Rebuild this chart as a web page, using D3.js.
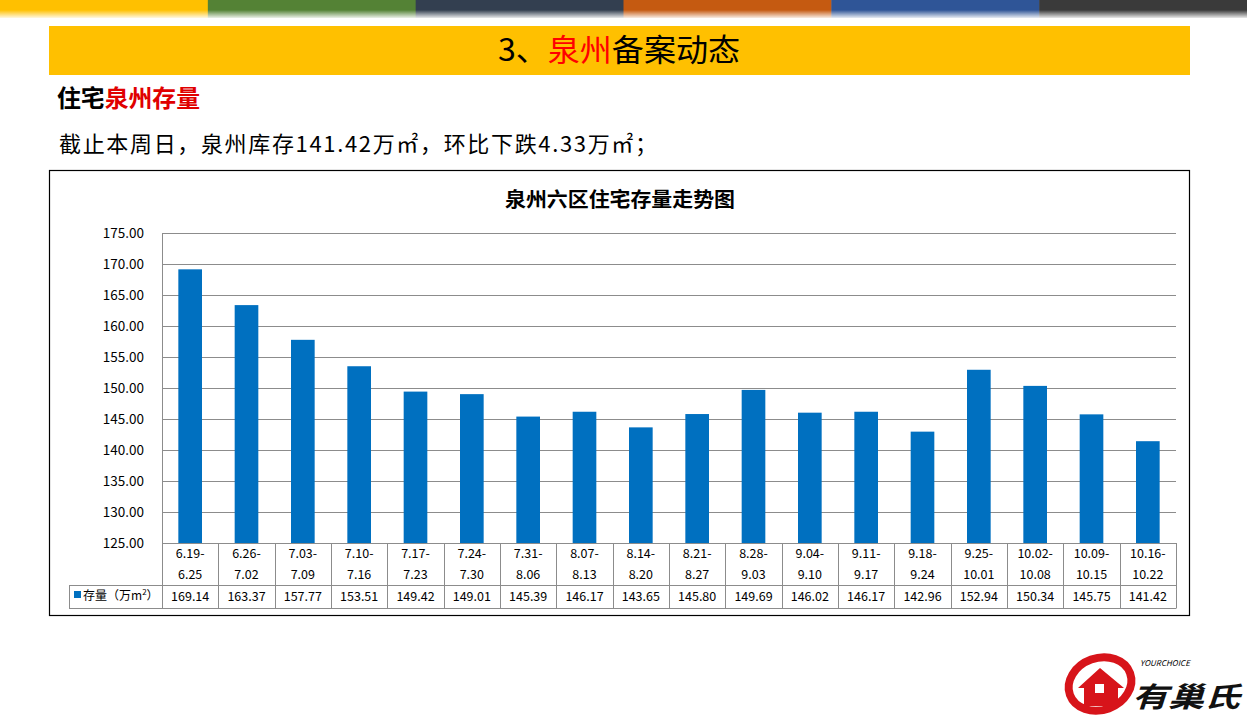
<!DOCTYPE html>
<html><head><meta charset="utf-8">
<script src="https://cdn.jsdelivr.net/npm/d3@7"></script>
<style>body{margin:0;background:#fff;}svg{display:block;font-family:"Noto Sans CJK SC","Noto Sans",sans-serif;}</style>
</head><body><svg id="c" width="1247" height="718"></svg>
<script>
const categoriesTop = ["6.19-","6.26-","7.03-","7.10-","7.17-","7.24-","7.31-","8.07-","8.14-","8.21-","8.28-","9.04-","9.11-","9.18-","9.25-","10.02-","10.09-","10.16-"];
const categoriesBottom = ["6.25","7.02","7.09","7.16","7.23","7.30","8.06","8.13","8.20","8.27","9.03","9.10","9.17","9.24","10.01","10.08","10.15","10.22"];
const stockValues = [169.14,163.37,157.77,153.51,149.42,149.01,145.39,146.17,143.65,145.80,149.69,146.02,146.17,142.96,152.94,150.34,145.75,141.42];
const yTicks = [125,130,135,140,145,150,155,160,165,170,175];
const stripColors = ["#FFC000","#548235","#333F50","#C55A11","#2F5597","#3A3A3A"];

const svg = d3.select("#c");
const categories = categoriesTop.map((d,i)=>d+"|"+categoriesBottom[i]);

// top strip
const defs = svg.append("defs");
const g = defs.append("linearGradient").attr("id","fade").attr("x1",0).attr("x2",0).attr("y1",0).attr("y2",1);
g.append("stop").attr("offset",0).attr("stop-color","#fff").attr("stop-opacity",0);
g.append("stop").attr("offset",1).attr("stop-color","#fff").attr("stop-opacity",1);
const sx = d3.scaleBand().domain(d3.range(stripColors.length)).range([0,1247]);
svg.selectAll(".strip").data(stripColors).join("rect").attr("x",(d,i)=>sx(i)).attr("y",0).attr("width",sx.bandwidth()+0.5).attr("height",18).attr("fill",d=>d);
svg.append("rect").attr("x",0).attr("y",10).attr("width",1247).attr("height",9).attr("fill","url(#fade)");

// banner
svg.append("rect").attr("x",49).attr("y",26).attr("width",1141).attr("height",49).attr("fill","#FFC000");
const bt = svg.append("text").attr("x",619).attr("y",61).attr("text-anchor","middle").attr("font-size",31).attr("fill","#000")
  .attr("textLength",242).attr("lengthAdjust","spacingAndGlyphs");
bt.append("tspan").text("3、");
bt.append("tspan").attr("fill","#FF0000").text("泉州");
bt.append("tspan").text("备案动态");

const st = svg.append("text").attr("x",57).attr("y",107).attr("font-size",24).attr("font-weight","bold")
  .attr("textLength",143).attr("lengthAdjust","spacingAndGlyphs");
st.append("tspan").text("住宅");
st.append("tspan").attr("fill","#E00000").text("泉州存量");
svg.append("text").attr("x",59).attr("y",152).attr("font-size",22).attr("fill","#000")
  .attr("textLength",598).attr("lengthAdjust","spacing")
  .text("截止本周日，泉州库存141.42万㎡，环比下跌4.33万㎡；");

// chart frame
svg.append("rect").attr("x",49.5).attr("y",170.5).attr("width",1140).attr("height",445).attr("fill","#fff").attr("stroke","#000").attr("stroke-width",1.2);
svg.append("text").attr("x",620).attr("y",207).attr("text-anchor","middle").attr("font-size",20).attr("font-weight","bold")
  .attr("textLength",230).attr("lengthAdjust","spacingAndGlyphs").text("泉州六区住宅存量走势图");

const L=162, R=1176, T=233, B=543;
const x = d3.scaleBand().domain(categories).range([L,R]).paddingInner(0.58).paddingOuter(0.29);
const xc = d3.scaleBand().domain(categories).range([L,R]);
const y = d3.scaleLinear().domain([125,175]).range([B,T]);

svg.append("g").selectAll("line").data(yTicks).join("line")
  .attr("x1",L).attr("x2",R).attr("y1",d=>Math.round(y(d))+0.5).attr("y2",d=>Math.round(y(d))+0.5)
  .attr("stroke","#8c8c8c").attr("stroke-width",1);
svg.append("line").attr("x1",L+0.5).attr("x2",L+0.5).attr("y1",T).attr("y2",B).attr("stroke","#8c8c8c");

const yAxis = svg.append("g").attr("transform",`translate(${L},0)`).call(d3.axisLeft(y).tickValues(yTicks).tickFormat(d3.format(".2f")).tickSize(0).tickPadding(18));
yAxis.select(".domain").remove();
yAxis.selectAll("text").attr("font-size",13.5).attr("fill","#000").attr("font-family","'Noto Sans CJK SC',sans-serif");

svg.append("g").selectAll("rect").data(stockValues).join("rect")
  .attr("x",(d,i)=>x(categories[i])).attr("width",x.bandwidth())
  .attr("y",d=>y(d)).attr("height",d=>y(125)-y(d)).attr("fill","#0070C0");

// data table
const tY1=B, tY2=585, tY3=608, legL=69;
const tbl = svg.append("g").attr("stroke","#8c8c8c").attr("stroke-width",1).attr("fill","none");
tbl.selectAll(".v").data(d3.range(categories.length+1)).join("line")
  .attr("x1",i=>i<categories.length?Math.round(xc(categories[i]))+0.5:R+0.5)
  .attr("x2",i=>i<categories.length?Math.round(xc(categories[i]))+0.5:R+0.5)
  .attr("y1",tY1).attr("y2",tY3);
tbl.append("line").attr("x1",legL+0.5).attr("x2",legL+0.5).attr("y1",tY2).attr("y2",tY3);
tbl.append("line").attr("x1",legL).attr("x2",R+0.5).attr("y1",tY2+0.5).attr("y2",tY2+0.5);
tbl.append("line").attr("x1",legL).attr("x2",R+0.5).attr("y1",tY3+0.5).attr("y2",tY3+0.5);

const tt = svg.append("g").attr("font-size",12.5).attr("text-anchor","middle").attr("fill","#000");
tt.selectAll(".a").data(categoriesTop).join("text").attr("x",(d,i)=>xc(categories[i])+xc.bandwidth()/2).attr("y",558).text(d=>d);
tt.selectAll(".b").data(categoriesBottom).join("text").attr("x",(d,i)=>xc(categories[i])+xc.bandwidth()/2).attr("y",579).text(d=>d);
tt.selectAll(".c").data(stockValues).join("text").attr("x",(d,i)=>xc(categories[i])+xc.bandwidth()/2).attr("y",601).text(d=>d.toFixed(2));
svg.append("rect").attr("x",74).attr("y",591).attr("width",7).attr("height",7).attr("fill","#0070C0");
const lg = svg.append("text").attr("x",83).attr("y",600).attr("font-size",12).attr("fill","#000");
lg.append("tspan").text("存量（万m");
lg.append("tspan").attr("font-size",8).attr("dy",-5).text("2");
lg.append("tspan").attr("dy",5).text("）");

// logo
const lgG = svg.append("g");
lgG.append("ellipse").attr("cx",1100).attr("cy",684).attr("rx",32).attr("ry",26).attr("fill","none").attr("stroke","#D7141A").attr("stroke-width",8).attr("transform","rotate(-20,1100,684)");
lgG.append("path").attr("d","M1078,688 L1100,668 L1124,688 L1118,688 L1118,706 L1084,706 L1084,688 Z").attr("fill","#D7141A");
lgG.append("rect").attr("x",1095).attr("y",684).attr("width",9).attr("height",9).attr("fill","#fff");
lgG.append("text").attr("x",1140).attr("y",666).attr("font-size",8).attr("font-style","italic").attr("fill","#000").text("YOURCHOICE");
lgG.append("text").attr("x",1132).attr("y",707).attr("font-size",28).attr("font-weight","bold").attr("font-style","italic").attr("fill","#111")
  .attr("textLength",108).attr("lengthAdjust","spacingAndGlyphs").text("有巢氏");
</script></body></html>
